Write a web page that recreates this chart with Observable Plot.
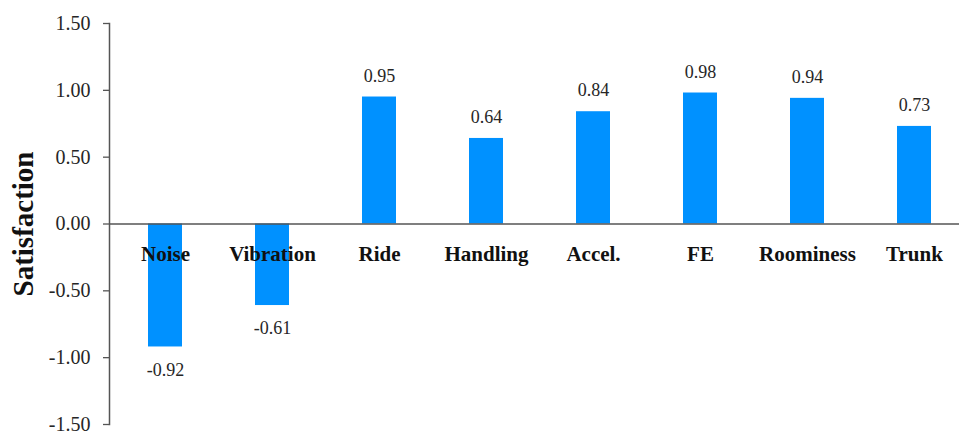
<!DOCTYPE html>
<html>
<head>
<meta charset="utf-8">
<script src="https://cdn.jsdelivr.net/npm/d3@7"></script>
<script src="https://cdn.jsdelivr.net/npm/@observablehq/plot@0.6"></script>
<style>
  body { margin: 0; background: #fff; }
  #chart svg { display: block; }
</style>
</head>
<body>
<div id="chart"></div>
<script>
const categories = ["Noise", "Vibration", "Ride", "Handling", "Accel.", "FE", "Roominess", "Trunk"];
const values = [-0.92, -0.61, 0.95, 0.64, 0.84, 0.98, 0.94, 0.73];
const yTicks = [-1.5, -1.0, -0.5, 0, 0.5, 1.0, 1.5];
const yLabel = "Satisfaction";

const data = categories.map((c, i) => ({category: c, value: values[i]}));
const fmt = d => d3.format(".2f")(d).replace("−", "-");
const font = "'Liberation Serif', serif";

const chart = Plot.plot({
  width: 959,
  height: 433,
  marginLeft: 109,
  marginRight: 0,
  marginTop: 23,
  marginBottom: 9,
  style: {fontFamily: font, background: "#fff", overflow: "visible"},
  x: {domain: categories, range: [109, 970], paddingInner: 0.684, paddingOuter: 0.342, axis: null},
  y: {domain: [-1.5, 1.5], axis: null},
  marks: [
    Plot.barY(data, {x: "category", y: "value", fill: "#0091ff"}),
    Plot.ruleY([0], {stroke: "#555", strokeWidth: 1.5}),
    Plot.frame({anchor: "left", stroke: "#555", strokeWidth: 1.5}),
    Plot.axisY({ticks: yTicks, tickFormat: fmt, tickSize: 6, tickPadding: 13, fontSize: 20, color: "#262626", stroke: "#555", strokeWidth: 1.3, label: null}),
    Plot.text(data, {x: "category", y: () => 0, text: "category", dy: 30, fontSize: 21, fontWeight: "bold", fill: "#111"}),
    Plot.text(data.filter(d => d.value >= 0), {x: "category", y: "value", text: d => fmt(d.value), dy: -21, fontSize: 18, fill: "#262626"}),
    Plot.text(data.filter(d => d.value < 0), {x: "category", y: "value", text: d => fmt(d.value), dy: 23, fontSize: 18, fill: "#262626"}),
    Plot.text([yLabel], {frameAnchor: "left", textAnchor: "middle", rotate: -90, dx: -86, fontSize: 29, fontWeight: "bold", fill: "#111"})
  ]
});
document.getElementById("chart").appendChild(chart);
</script>
</body>
</html>
